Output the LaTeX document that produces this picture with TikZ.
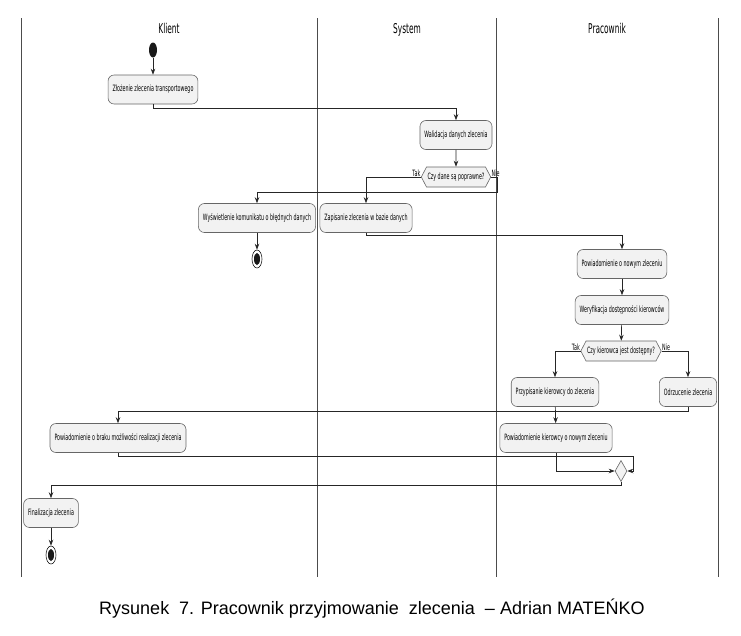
\documentclass[tikz,border=0pt]{standalone}
\usepackage{fontspec}
\setmainfont{DejaVu Sans}
\newfontfamily\capfont{Liberation Sans}
\usetikzlibrary{shapes.geometric,shapes.symbols,arrows.meta}
\newcommand\sq[1]{\scalebox{0.55}[1]{#1}}
\begin{document}
\begin{tikzpicture}[x=1pt,y=-1pt,
  lane/.style={draw=black!70, line width=0.9pt},
  act/.style={draw=black!60, fill=black!5, line width=0.6pt, rounded corners=6pt,
    minimum height=29pt, inner xsep=4.5pt, inner ysep=2pt, font=\fontsize{8.7}{10}\selectfont},
  dec/.style={signal, signal to=east and west, signal pointer angle=125, draw=black!60,
    fill=black!5, line width=0.6pt, minimum height=20pt, inner xsep=1pt, inner ysep=0pt,
    font=\fontsize{8.7}{10}\selectfont},
  lbl/.style={inner sep=0.5pt, font=\fontsize{8.7}{10}\selectfont},
  hdr/.style={inner sep=0pt, anchor=base, font=\fontsize{13.5}{16}\selectfont},
  startn/.style={ellipse, fill=black!90, minimum width=8pt, minimum height=15pt, inner sep=0pt},
  endn/.style={ellipse, draw=black!90, line width=0.6pt, fill=white, minimum width=10pt, minimum height=18pt, inner sep=0pt},
  mergen/.style={diamond, draw=black!60, fill=black!5, line width=0.6pt, minimum width=12pt, minimum height=21pt, inner sep=0pt},
  arr/.style={draw=black!85, line width=0.7pt, -{Stealth[length=6pt,width=4.5pt,inset=2pt]}}
]
\fill[white] (0,0) rectangle (741,635);
\useasboundingbox (0,0) rectangle (741,635);
% lanes
\draw[lane] (21,18) -- (21,577);
\draw[lane] (317,18) -- (317,577);
\draw[lane] (496,18) -- (496,577);
\draw[lane] (718,18) -- (718,577);
\node[hdr] (hk) at (169,33) {\sq{Klient}};
\node[hdr] (hs) at (407,33) {\sq{System}};
\node[hdr] (hp) at (607,33) {\sq{Pracownik}};
% nodes
\node[startn] (start) at (153,50) {};
\node[act] (n1) at (153,89.5) {\sq{Złożenie zlecenia transportowego}};
\node[act] (n2) at (456,135) {\sq{Walidacja danych zlecenia}};
\node[dec] (d1) at (456,177) {\sq{Czy dane są poprawne?}};
\node[lbl, anchor=south east] (t1) at (d1.west) {\sq{Tak}};
\node[lbl, anchor=south west] (e1) at (d1.east) {\sq{Nie}};
\node[act] (n3) at (257,218) {\sq{Wyświetlenie komunikatu o błędnych danych}};
\node[act] (n4) at (366,218) {\sq{Zapisanie zlecenia w bazie danych}};
\node[endn] (end1) at (257,259) {};
\fill[black!90] (end1.center) ellipse [x radius=3pt, y radius=6pt];
\node[act] (n5) at (622,264) {\sq{Powiadomienie o nowym zleceniu}};
\node[act] (n6) at (622,310) {\sq{Weryfikacja dostępności kierowców}};
\node[dec] (d2) at (621,351) {\sq{Czy kierowca jest dostępny?}};
\node[lbl, anchor=south east] (t2) at (d2.west) {\sq{Tak}};
\node[lbl, anchor=south west] (e2) at (d2.east) {\sq{Nie}};
\node[act] (n7) at (555,392) {\sq{Przypisanie kierowcy do zlecenia}};
\node[act] (n8) at (688,392) {\sq{Odrzucenie zlecenia}};
\node[act] (n9) at (118,438) {\sq{Powiadomienie o braku możliwości realizacji zlecenia}};
\node[act] (n10) at (556,438) {\sq{Powiadomienie kierowcy o nowym zleceniu}};
\node[mergen] (merge) at (621,471) {};
\node[act] (n11) at (51,513) {\sq{Finalizacja zlecenia}};
\node[endn] (end2) at (51,555) {};
\fill[black!90] (end2.center) ellipse [x radius=3pt, y radius=6pt];
% connectors
\draw[arr] (start) -- (n1);
\draw[arr] (n1.south) -- ++(0,4) -| (n2.north);
\draw[arr] (n2) -- (d1);
\draw[arr] (d1.west) -| (n4.north);
\draw[arr] (d1.east) -- ++(6,0) -- ++(0,15) -| (n3.north);
\draw[arr] (n3) -- (end1);
\draw[arr] (n4.south) -- ++(0,3) -| (n5.north);
\draw[arr] (n5) -- (n6);
\draw[arr] (n6) -- (d2);
\draw[arr] (d2.west) -| (n7.north);
\draw[arr] (d2.east) -| (n8.north);
\draw[arr] (n8.south) -- ++(0,5) -| (n9.north);
\draw[arr] (n7) -- (n10);
\draw[arr] (n10.south) |- (merge.west);
\coordinate (j1) at ([xshift=6pt]merge.east);
\draw[arr] (n9.south) -- ++(0,4) -| (j1) -- (merge.east);
\draw[arr] (merge.south) -- ++(0,4) -| (n11.north);
\draw[arr] (n11) -- (end2);
% caption
\node[font=\capfont\fontsize{18}{21}\selectfont, inner sep=0pt] (cap) at (372,609)
  {Rysunek\ \ 7. Pracownik przyjmowanie\ \ zlecenia\ \ – Adrian MATEŃKO};
\end{tikzpicture}
\end{document}
